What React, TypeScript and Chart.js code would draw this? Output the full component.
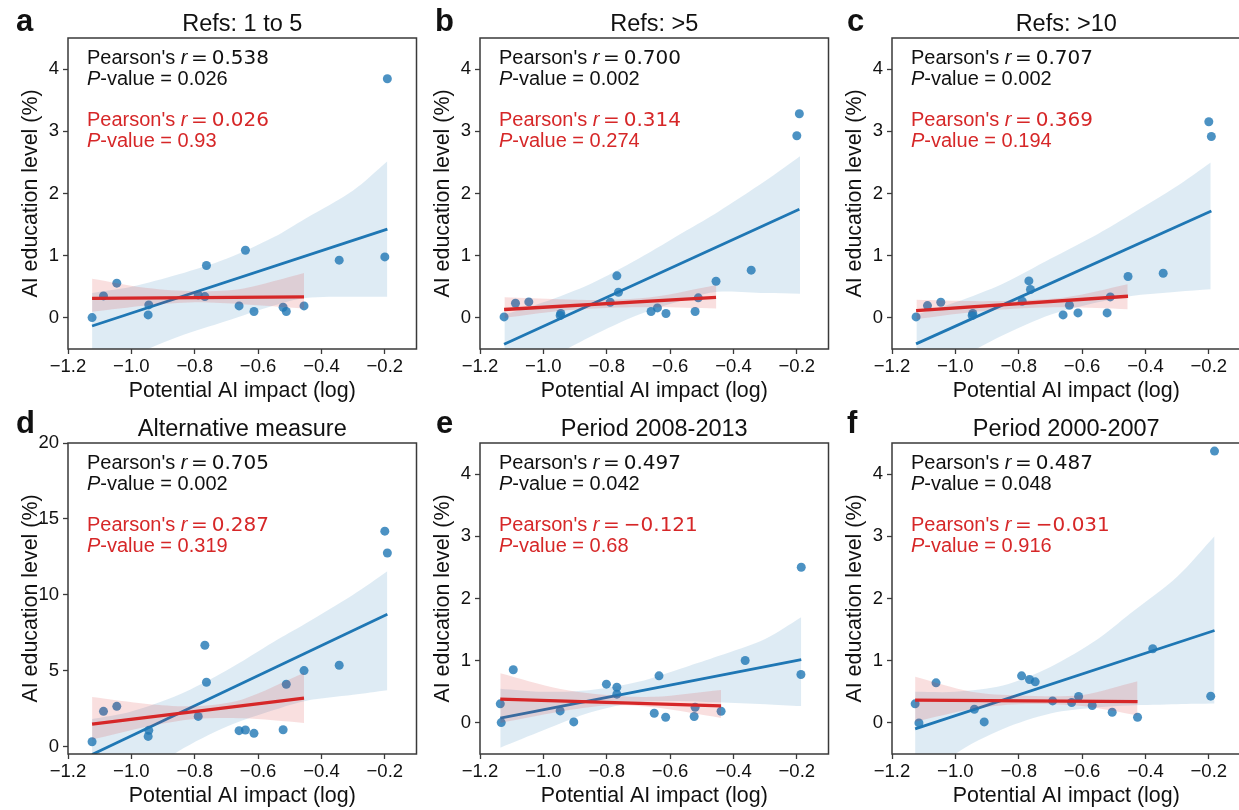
import React, { useEffect, useRef } from 'react';
import { Chart, registerables } from 'chart.js';

Chart.register(...registerables);

const FONT = "'Liberation Sans', Arial, Helvetica, sans-serif";
const MATH_FONT = "'DejaVu Sans', 'Liberation Sans', sans-serif";

// ---------- data ----------
const TITLES = ['Refs: 1 to 5', 'Refs: >5', 'Refs: >10', 'Alternative measure', 'Period 2008-2013', 'Period 2000-2007'];
const LETTERS = ['a', 'b', 'c', 'd', 'e', 'f'];

const X_TICKS = [-1.2, -1.0, -0.8, -0.6, -0.4, -0.2];
const X_TICK_LABELS = ['\u22121.2', '\u22121.0', '\u22120.8', '\u22120.6', '\u22120.4', '\u22120.2'];
const Y_TICKS_PCT = [0, 1, 2, 3, 4];
const Y_TICKS_ALT = [0, 5, 10, 15, 20];

const R_ALL = ['0.538', '0.700', '0.707', '0.705', '0.497', '0.487'];
const P_ALL = ['0.026', '0.002', '0.002', '0.002', '0.042', '0.048'];
const R_SUB = ['0.026', '0.314', '0.369', '0.287', '\u22120.121', '\u22120.031'];
const P_SUB = ['0.93', '0.274', '0.194', '0.319', '0.68', '0.916'];

// subset used for the red fit: potential AI impact below this value
const RED_X_MAX = -0.4;

const X_REFS = [-1.124, -1.088, -1.046, -0.945, -0.947, -0.789, -0.768, -0.763, -0.660, -0.640, -0.613, -0.521, -0.511, -0.455, -0.344, -0.200, -0.192];
const Y_A = [0.005, 0.354, 0.558, 0.209, 0.048, 0.37, 0.343, 0.842, 0.193, 1.088, 0.102, 0.172, 0.102, 0.193, 0.928, 0.981, 3.845];
const Y_B = [0.016, 0.236, 0.257, 0.07, 0.038, 0.252, 0.676, 0.413, 0.102, 0.161, 0.07, 0.102, 0.322, 0.59, 0.767, 2.928, 3.282];
const Y_C = [0.016, 0.198, 0.252, 0.07, 0.038, 0.268, 0.595, 0.456, 0.048, 0.204, 0.08, 0.08, 0.338, 0.665, 0.718, 3.153, 2.917];
const Y_D = [0.31, 2.31, 2.64, 1.06, 0.66, 1.98, 6.67, 4.23, 1.04, 1.08, 0.86, 1.10, 4.10, 5.0, 5.35, 14.19, 12.75];
const X_E = [-1.136, -1.133, -1.095, -0.947, -0.904, -0.801, -0.768, -0.768, -0.650, -0.635, -0.614, -0.524, -0.521, -0.439, -0.363, -0.187, -0.186];
const Y_E = [0.306, 0.005, 0.854, 0.193, 0.016, 0.623, 0.574, 0.462, 0.156, 0.757, 0.091, 0.102, 0.252, 0.188, 1.004, 0.779, 2.502];
const X_F = [-1.127, -1.115, -1.061, -0.940, -0.909, -0.791, -0.766, -0.748, -0.693, -0.633, -0.611, -0.568, -0.505, -0.425, -0.377, -0.194, -0.182];
const Y_F = [0.306, 0.0, 0.644, 0.220, 0.016, 0.757, 0.698, 0.660, 0.354, 0.328, 0.424, 0.279, 0.172, 0.091, 1.192, 0.430, 4.370];

// confidence bands
const A_BLUE_X = [-1.124, -1.0, -0.85, -0.7, -0.55, -0.45, -0.3, -0.192];
const A_BLUE_UP = [0.40, 0.50, 0.70, 0.95, 1.30, 1.60, 2.05, 2.52];
const A_BLUE_LO = [-0.95, -0.62, -0.30, -0.05, 0.20, 0.32, 0.34, 0.34];
const A_RED_X = [-1.124, -0.95, -0.8, -0.65, -0.455];
const A_RED_UP = [0.63, 0.48, 0.43, 0.47, 0.72];
const A_RED_LO = [0.10, 0.20, 0.25, 0.22, 0.15];

const B_BLUE_X = [-1.123, -1.0, -0.85, -0.7, -0.55, -0.45, -0.3, -0.19];
const B_BLUE_UP = [0.05, 0.25, 0.55, 0.95, 1.40, 1.70, 2.20, 2.60];
const B_BLUE_LO = [-1.0, -0.70, -0.30, 0.05, 0.30, 0.42, 0.40, 0.39];
const B_RED_X = [-1.123, -0.95, -0.8, -0.65, -0.454];
const B_RED_UP = [0.33, 0.30, 0.29, 0.34, 0.53];
const B_RED_LO = [0.0, 0.11, 0.16, 0.17, 0.15];

const C_BLUE_X = [-1.123, -1.0, -0.85, -0.7, -0.55, -0.45, -0.3, -0.194];
const C_BLUE_UP = [0.05, 0.25, 0.55, 0.95, 1.35, 1.65, 2.12, 2.50];
const C_BLUE_LO = [-1.0, -0.68, -0.28, 0.05, 0.25, 0.35, 0.42, 0.46];
const C_RED_X = [-1.123, -0.95, -0.8, -0.65, -0.456];
const C_RED_UP = [0.29, 0.27, 0.28, 0.33, 0.54];
const C_RED_LO = [-0.02, 0.09, 0.15, 0.17, 0.14];

const D_BLUE_X = [-1.124, -1.0, -0.85, -0.7, -0.55, -0.45, -0.3, -0.192];
const D_BLUE_UP = [1.8, 2.3, 3.4, 5.0, 6.9, 8.1, 10.0, 11.55];
const D_BLUE_LO = [-4.0, -2.5, -0.3, 1.3, 2.4, 3.0, 3.4, 3.7];
const D_RED_X = [-1.124, -0.95, -0.8, -0.65, -0.455];
const D_RED_UP = [3.25, 2.8, 2.65, 3.1, 4.85];
const D_RED_LO = [0.45, 1.3, 1.8, 1.85, 1.55];

const E_BLUE_X = [-1.136, -1.0, -0.85, -0.7, -0.55, -0.45, -0.3, -0.186];
const E_BLUE_UP = [0.55, 0.50, 0.53, 0.66, 0.90, 1.07, 1.35, 1.70];
const E_BLUE_LO = [-0.40, -0.12, 0.17, 0.33, 0.35, 0.33, 0.30, 0.27];
const E_RED_X = [-1.136, -0.95, -0.8, -0.65, -0.439];
const E_RED_UP = [0.80, 0.55, 0.45, 0.42, 0.53];
const E_RED_LO = [0.0, 0.18, 0.28, 0.25, 0.08];

const F_BLUE_X = [-1.127, -1.0, -0.85, -0.7, -0.55, -0.45, -0.3, -0.182];
const F_BLUE_UP = [0.50, 0.50, 0.60, 0.90, 1.35, 1.75, 2.35, 3.0];
const F_BLUE_LO = [-1.1, -0.5, -0.1, 0.15, 0.25, 0.28, 0.30, 0.31];
const F_RED_X = [-1.127, -0.95, -0.8, -0.6, -0.425];
const F_RED_UP = [0.74, 0.50, 0.44, 0.45, 0.67];
const F_RED_LO = [0.02, 0.22, 0.30, 0.27, 0.12];

// ---------- styles / layout ----------
const BLUE = '#1f77b4';
const RED = '#d62728';
const PT_COLOR = 'rgba(31,119,180,0.8)';
const BLUE_BAND = 'rgba(31,119,180,0.15)';
const RED_BAND = 'rgba(214,39,40,0.15)';
const TXT = '#111111';
const SPINE = '#3a3a3a';

const CANVAS_W = 421;
const CANVAS_H = 405;
const PLOT_LEFT = 68;
const PLOT_TOP = 38;
const X_AXIS_H = 56;
const RIGHT_PAD = 2;
const PANEL_LEFT = [0, 412, 824, 0, 412, 824];
const PANEL_TOP = [0, 0, 0, 405, 405, 405];
const LETTER_X = [16, 23, 23, 16, 24, 23];
const LETTER_BASE = [31, 31, 31, 28, 28, 28];

const PANELS = [
  { xs: X_REFS, ys: Y_A, bx: A_BLUE_X, bu: A_BLUE_UP, bl: A_BLUE_LO, rx: A_RED_X, ru: A_RED_UP, rl: A_RED_LO, yTicks: Y_TICKS_PCT, yMax: 4.5 },
  { xs: X_REFS, ys: Y_B, bx: B_BLUE_X, bu: B_BLUE_UP, bl: B_BLUE_LO, rx: B_RED_X, ru: B_RED_UP, rl: B_RED_LO, yTicks: Y_TICKS_PCT, yMax: 4.5 },
  { xs: X_REFS, ys: Y_C, bx: C_BLUE_X, bu: C_BLUE_UP, bl: C_BLUE_LO, rx: C_RED_X, ru: C_RED_UP, rl: C_RED_LO, yTicks: Y_TICKS_PCT, yMax: 4.5 },
  { xs: X_REFS, ys: Y_D, bx: D_BLUE_X, bu: D_BLUE_UP, bl: D_BLUE_LO, rx: D_RED_X, ru: D_RED_UP, rl: D_RED_LO, yTicks: Y_TICKS_ALT, yMax: 20 },
  { xs: X_E, ys: Y_E, bx: E_BLUE_X, bu: E_BLUE_UP, bl: E_BLUE_LO, rx: E_RED_X, ru: E_RED_UP, rl: E_RED_LO, yTicks: Y_TICKS_PCT, yMax: 4.5 },
  { xs: X_F, ys: Y_F, bx: F_BLUE_X, bu: F_BLUE_UP, bl: F_BLUE_LO, rx: F_RED_X, ru: F_RED_UP, rl: F_RED_LO, yTicks: Y_TICKS_PCT, yMax: 4.5 },
];

function olsLine(xs: number[], ys: number[]) {
  const n = xs.length;
  const mx = xs.reduce((s, v) => s + v, 0) / n;
  const my = ys.reduce((s, v) => s + v, 0) / n;
  let sxx = 0;
  let sxy = 0;
  for (let i = 0; i < n; i++) {
    sxx += (xs[i] - mx) * (xs[i] - mx);
    sxy += (xs[i] - mx) * (ys[i] - my);
  }
  const b = sxy / sxx;
  const a = my - b * mx;
  const x0 = Math.min(...xs);
  const x1 = Math.max(...xs);
  return [{ x: x0, y: a + b * x0 }, { x: x1, y: a + b * x1 }];
}

// parts: [text, css font, extra gap after]
function drawRich(ctx: CanvasRenderingContext2D, x: number, y: number, parts: [string, string, number][], color: string) {
  let cx = x;
  ctx.fillStyle = color;
  ctx.textAlign = 'left';
  ctx.textBaseline = 'alphabetic';
  for (const [t, f, gap] of parts) {
    ctx.font = f;
    ctx.fillText(t, cx, y);
    cx += ctx.measureText(t).width + gap;
  }
}

const F_TXT = `20px ${FONT}`;
const F_TXT_IT = `italic 20px ${FONT}`;
const F_MATH = `20px ${MATH_FONT}`;

function Panel({ idx }: { idx: number }) {
  const ref = useRef<HTMLCanvasElement | null>(null);
  useEffect(() => {
    const p = PANELS[idx];
    const subX: number[] = [];
    const subY: number[] = [];
    p.xs.forEach((x, i) => {
      if (x < RED_X_MAX) {
        subX.push(x);
        subY.push(p.ys[i]);
      }
    });
    const bandLine = (xs: number[], ys: number[]) => xs.map((x, i) => ({ x, y: ys[i] }));

    const decor = {
      id: 'decor',
      afterDraw(chart: any) {
        const { ctx, chartArea: ca } = chart;
        ctx.save();
        ctx.strokeStyle = SPINE;
        ctx.lineWidth = 1.5;
        ctx.strokeRect(ca.left, ca.top, ca.right - ca.left, ca.bottom - ca.top);
        // title
        ctx.fillStyle = TXT;
        ctx.font = `23.5px ${FONT}`;
        ctx.textAlign = 'center';
        ctx.textBaseline = 'alphabetic';
        ctx.fillText(TITLES[idx], (ca.left + ca.right) / 2, 31);
        // panel letter
        ctx.font = `bold 31px ${FONT}`;
        ctx.textAlign = 'left';
        ctx.fillText(LETTERS[idx], LETTER_X[idx], LETTER_BASE[idx]);
        // stats
        const tx = ca.left + 19;
        drawRich(ctx, tx, ca.top + 26, [["Pearson's ", F_TXT, 0], ['r', F_TXT_IT, 3.5], ['=', F_MATH, 4], [R_ALL[idx], F_MATH, 0]], TXT);
        drawRich(ctx, tx, ca.top + 47, [['P', F_TXT_IT, 0], ['-value = ' + P_ALL[idx], F_TXT, 0]], TXT);
        drawRich(ctx, tx, ca.top + 88, [["Pearson's ", F_TXT, 0], ['r', F_TXT_IT, 3.5], ['=', F_MATH, 4], [R_SUB[idx], F_MATH, 0]], RED);
        drawRich(ctx, tx, ca.top + 109, [['P', F_TXT_IT, 0], ['-value = ' + P_SUB[idx], F_TXT, 0]], RED);
        ctx.restore();
      },
    };

    const chart = new Chart(ref.current as HTMLCanvasElement, {
      type: 'scatter',
      data: {
        datasets: [
          { type: 'line', data: olsLine(subX, subY), borderColor: RED, borderWidth: 3.3, pointRadius: 0, fill: false, order: 0 } as any,
          { type: 'line', data: bandLine(p.rx, p.ru), borderColor: 'rgba(0,0,0,0)', borderWidth: 0, pointRadius: 0, tension: 0.3, fill: false, order: 1 } as any,
          { type: 'line', data: bandLine(p.rx, p.rl), borderColor: 'rgba(0,0,0,0)', borderWidth: 0, pointRadius: 0, tension: 0.3, fill: '-1', backgroundColor: RED_BAND, order: 1 } as any,
          { type: 'line', data: olsLine(p.xs, p.ys), borderColor: BLUE, borderWidth: 2.8, pointRadius: 0, fill: false, order: 2 } as any,
          { type: 'line', data: bandLine(p.bx, p.bu), borderColor: 'rgba(0,0,0,0)', borderWidth: 0, pointRadius: 0, tension: 0.3, fill: false, order: 3 } as any,
          { type: 'line', data: bandLine(p.bx, p.bl), borderColor: 'rgba(0,0,0,0)', borderWidth: 0, pointRadius: 0, tension: 0.3, fill: '-1', backgroundColor: BLUE_BAND, order: 3 } as any,
          { type: 'scatter', data: p.xs.map((x, i) => ({ x, y: p.ys[i] })), backgroundColor: PT_COLOR, borderWidth: 0, pointRadius: 4.5, order: 4 } as any,
        ],
      },
      options: {
        animation: false,
        responsive: false,
        devicePixelRatio: 1,
        events: [],
        layout: { padding: { left: 0, top: PLOT_TOP, right: RIGHT_PAD, bottom: 0 } },
        plugins: { legend: { display: false }, tooltip: { enabled: false }, title: { display: false } },
        scales: {
          x: {
            type: 'linear',
            min: -1.2,
            max: -0.1,
            afterBuildTicks: (s: any) => { s.ticks = X_TICKS.map((v) => ({ value: v })); },
            afterFit: (s: any) => { s.height = X_AXIS_H; },
            ticks: {
              callback: (v: any) => X_TICK_LABELS[X_TICKS.indexOf(Number(v))] ?? '',
              color: TXT,
              font: { size: 18.5, family: FONT },
              padding: 1.5,
              maxRotation: 0,
              autoSkip: false,
            },
            grid: { display: true, drawOnChartArea: false, drawTicks: true, tickLength: 5, tickColor: SPINE, tickWidth: 1.3 },
            border: { display: false },
            title: { display: true, text: 'Potential AI impact (log)', color: TXT, font: { size: 21.4, family: FONT }, padding: { top: 0, bottom: 1.3 } },
          },
          y: {
            type: 'linear',
            min: -0.5,
            max: p.yMax,
            afterBuildTicks: (s: any) => { s.ticks = p.yTicks.map((v) => ({ value: v })); },
            afterFit: (s: any) => { s.width = PLOT_LEFT; },
            ticks: {
              callback: (v: any) => String(v),
              color: TXT,
              font: { size: 18.5, family: FONT },
              padding: 4,
              autoSkip: false,
            },
            grid: { display: true, drawOnChartArea: false, drawTicks: true, tickLength: 5, tickColor: SPINE, tickWidth: 1.3 },
            border: { display: false },
            title: { display: true, text: 'AI education level (%)', color: TXT, font: { size: 21.4, family: FONT }, padding: { top: 18, bottom: 0 } },
          },
        },
      } as any,
      plugins: [decor],
    });
    return () => chart.destroy();
  }, [idx]);

  return (
    <canvas
      ref={ref}
      width={CANVAS_W}
      height={CANVAS_H}
      style={{ position: 'absolute', left: PANEL_LEFT[idx], top: PANEL_TOP[idx], width: CANVAS_W, height: CANVAS_H }}
    />
  );
}

export default function App() {
  return (
    <div style={{ position: 'absolute', left: 0, top: 0, width: 1239, height: 810, overflow: 'hidden', background: '#ffffff' }}>
      {PANELS.map((_, i) => (
        <Panel key={i} idx={i} />
      ))}
    </div>
  );
}
